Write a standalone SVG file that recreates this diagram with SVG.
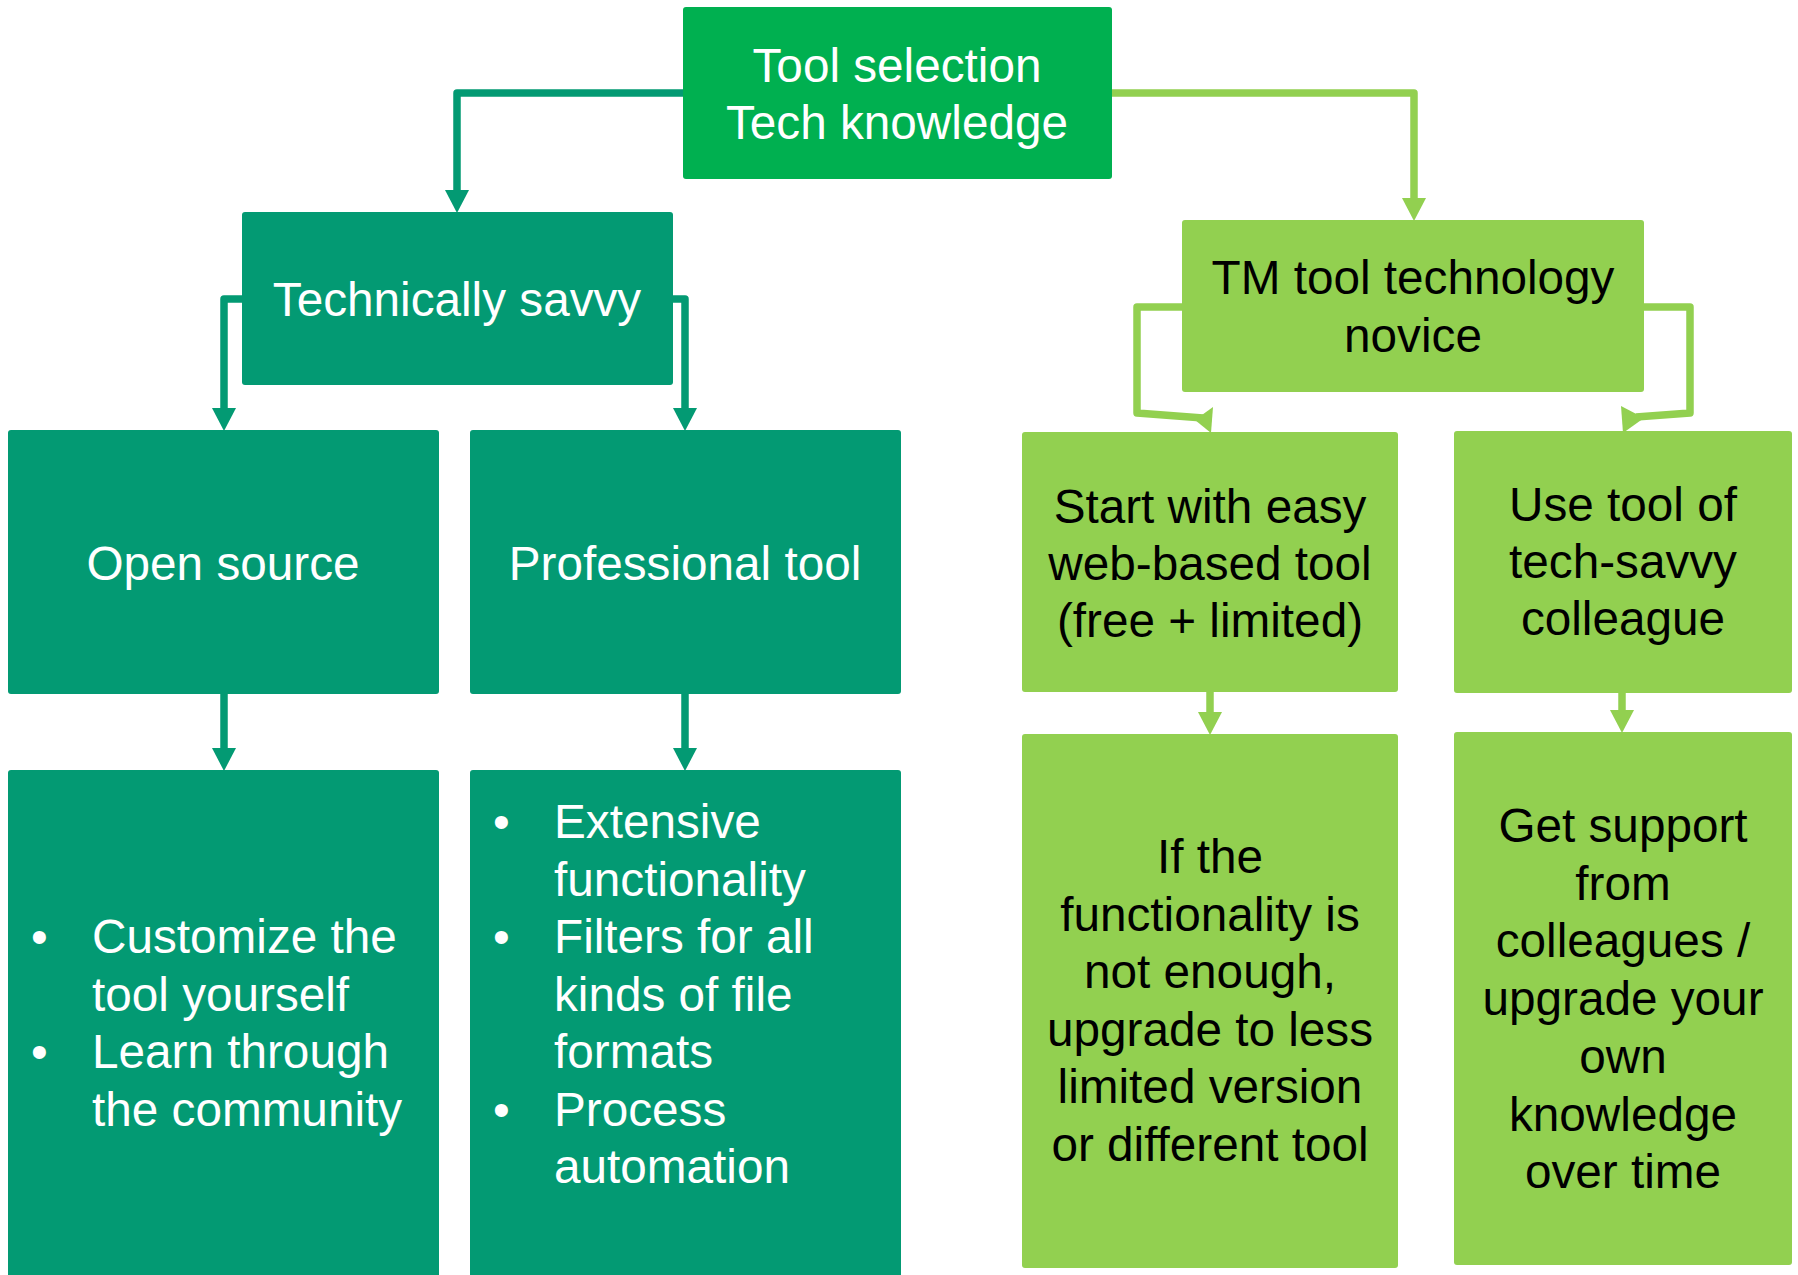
<svg xmlns="http://www.w3.org/2000/svg" width="1798" height="1275" viewBox="0 0 1798 1275">
<style>
.top{fill:#00B050}
.teal{fill:#039A73}
.lime{fill:#92D050}
.tw{font-family:"Liberation Sans",Arial,sans-serif;font-size:47.7px;fill:#FFFFFF}
.tb{font-family:"Liberation Sans",Arial,sans-serif;font-size:47.7px;fill:#000000}
.c{text-anchor:middle}
.ct{fill:none;stroke:#039A73;stroke-width:7.5;stroke-linejoin:round}
.cl{fill:none;stroke:#92D050;stroke-width:7.5;stroke-linejoin:round}
</style>
<defs>
<marker id="aT" markerUnits="userSpaceOnUse" markerWidth="23" markerHeight="24" viewBox="0 0 23 24" refX="1" refY="12" orient="auto">
<path d="M0,0 L23,12 L0,24 z" fill="#039A73"/>
</marker>
<marker id="aL" markerUnits="userSpaceOnUse" markerWidth="23" markerHeight="24" viewBox="0 0 23 24" refX="1" refY="12" orient="auto">
<path d="M0,0 L23,12 L0,24 z" fill="#92D050"/>
</marker>
</defs>
<g id="connectors">
<path class="ct" d="M683,93 H457 V191" marker-end="url(#aT)"/>
<path class="cl" d="M1112,93 H1414 V199" marker-end="url(#aL)"/>
<path class="ct" d="M242,299 H224 V409" marker-end="url(#aT)"/>
<path class="ct" d="M673,299 H685 V409" marker-end="url(#aT)"/>
<path class="ct" d="M224,694 V749" marker-end="url(#aT)"/>
<path class="ct" d="M685,694 V749" marker-end="url(#aT)"/>
<path class="cl" d="M1182,307 H1137 V413 L1203,418"/>
<polygon points="1195,420 1213,407 1211,433" fill="#92D050"/>
<path class="cl" d="M1644,307 H1690 V413 L1636,417"/>
<polygon points="1621,406 1644,418 1623,433" fill="#92D050"/>
<path class="cl" d="M1210,692 V713" marker-end="url(#aL)"/>
<path class="cl" d="M1622,693 V711" marker-end="url(#aL)"/>
</g>
<g id="n-top">
<rect class="top" x="683" y="7" width="429" height="172" rx="3"/>
<text class="tw c" x="897" y="82">Tool selection</text>
<text class="tw c" x="897" y="139">Tech knowledge</text>
</g>
<g id="n-savvy">
<rect class="teal" x="242" y="212" width="431" height="173" rx="3"/>
<text class="tw c" x="457" y="316">Technically savvy</text>
</g>
<g id="n-open">
<rect class="teal" x="8" y="430" width="431" height="264" rx="3"/>
<text class="tw c" x="223" y="580">Open source</text>
</g>
<g id="n-pro">
<rect class="teal" x="470" y="430" width="431" height="264" rx="3"/>
<text class="tw c" x="685" y="580">Professional tool</text>
</g>
<g id="n-open-detail">
<rect class="teal" x="8" y="770" width="431" height="510" rx="3"/>
<text class="tw" x="31" y="953">•</text>
<text class="tw" x="92" y="953">Customize the</text>
<text class="tw" x="92" y="1011">tool yourself</text>
<text class="tw" x="31" y="1068">•</text>
<text class="tw" x="92" y="1068">Learn through</text>
<text class="tw" x="92" y="1126">the community</text>
</g>
<g id="n-pro-detail">
<rect class="teal" x="470" y="770" width="431" height="510" rx="3"/>
<text class="tw" x="493" y="838">•</text>
<text class="tw" x="554" y="838">Extensive</text>
<text class="tw" x="554" y="896">functionality</text>
<text class="tw" x="493" y="953">•</text>
<text class="tw" x="554" y="953">Filters for all</text>
<text class="tw" x="554" y="1011">kinds of file</text>
<text class="tw" x="554" y="1068">formats</text>
<text class="tw" x="493" y="1126">•</text>
<text class="tw" x="554" y="1126">Process</text>
<text class="tw" x="554" y="1183">automation</text>
</g>
<g id="n-novice">
<rect class="lime" x="1182" y="220" width="462" height="172" rx="3"/>
<text class="tb c" x="1413" y="294">TM tool technology</text>
<text class="tb c" x="1413" y="352">novice</text>
</g>
<g id="n-easy">
<rect class="lime" x="1022" y="432" width="376" height="260" rx="3"/>
<text class="tb c" x="1210" y="523">Start with easy</text>
<text class="tb c" x="1210" y="580">web-based tool</text>
<text class="tb c" x="1210" y="637">(free + limited)</text>
</g>
<g id="n-colleague">
<rect class="lime" x="1454" y="431" width="338" height="262" rx="3"/>
<text class="tb c" x="1623" y="521">Use tool of</text>
<text class="tb c" x="1623" y="578">tech-savvy</text>
<text class="tb c" x="1623" y="635">colleague</text>
</g>
<g id="n-upgrade">
<rect class="lime" x="1022" y="734" width="376" height="534" rx="3"/>
<text class="tb c" x="1210" y="873">If the</text>
<text class="tb c" x="1210" y="931">functionality is</text>
<text class="tb c" x="1210" y="988">not enough,</text>
<text class="tb c" x="1210" y="1046">upgrade to less</text>
<text class="tb c" x="1210" y="1103">limited version</text>
<text class="tb c" x="1210" y="1161">or different tool</text>
</g>
<g id="n-support">
<rect class="lime" x="1454" y="732" width="338" height="533" rx="3"/>
<text class="tb c" x="1623" y="842">Get support</text>
<text class="tb c" x="1623" y="900">from</text>
<text class="tb c" x="1623" y="957">colleagues /</text>
<text class="tb c" x="1623" y="1015">upgrade your</text>
<text class="tb c" x="1623" y="1073">own</text>
<text class="tb c" x="1623" y="1131">knowledge</text>
<text class="tb c" x="1623" y="1188">over time</text>
</g>
</svg>
